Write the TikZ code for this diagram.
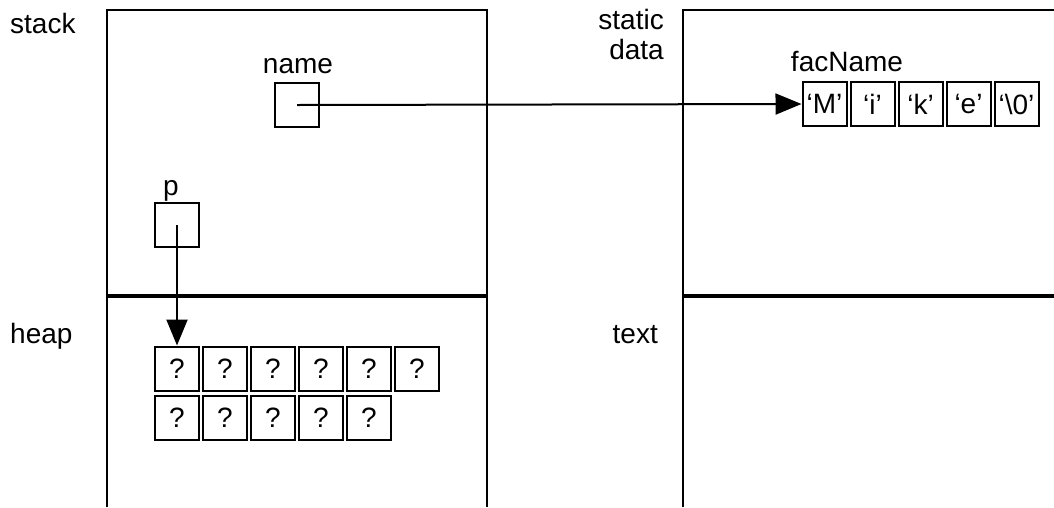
\documentclass[tikz,border=0pt]{standalone}
\usepackage{fontspec}
\setmainfont{Liberation Sans}
\usetikzlibrary{arrows.meta}
\tikzset{
  lbl/.style={inner sep=0pt, font=\fontsize{28}{30}\selectfont},
  cell/.style={draw, line width=2pt, minimum width=44pt, minimum height=44pt, inner sep=0pt, font=\fontsize{28}{30}\selectfont},
  frame/.style={line width=2pt},
  divider/.style={line width=4pt},
  ptr/.style={line width=2pt, -{Triangle[length=26pt,width=21pt]}}
}
\begin{document}
\begin{tikzpicture}[x=1pt,y=-1pt]
\useasboundingbox (0,0) rectangle (1054,507);
% frames
\draw[frame] (107,507) -- (107,10) -- (487,10) -- (487,507);
\draw[frame] (683,507) -- (683,10) -- (1054,10);
\draw[divider] (107,296) -- (487,296);
\draw[divider] (683,296) -- (1054,296);
% region labels
\node[lbl, anchor=base west] (lstack) at (10,33) {stack};
\node[lbl, anchor=base west] (lheap) at (10,343) {heap};
\node[lbl, anchor=north east, align=right] (lstatic) at (664,9) {static\\data};
\node[lbl, anchor=base east] (ltext) at (658,343) {text};
% name pointer
\node[cell] (namebox) at (297,105) {};
\node[lbl, anchor=base] (lname) at (298,73) {name};
% p pointer
\node[cell] (pbox) at (177,225) {};
\node[lbl, anchor=base] (lp) at (171,195) {p};
% facName array
\node[lbl, anchor=base] (lfac) at (847,71) {facName};
\node[cell] (f1) at (824.5,104) {‘M’};
\node[cell] (f2) at (872.5,104) {‘i’};
\node[cell] (f3) at (920.5,104) {‘k’};
\node[cell] (f4) at (968.5,104) {‘e’};
\node[cell] (f5) at (1016.5,104) {‘\textbackslash0’};
% heap cells
\foreach \i in {0,...,5} {
  \node[cell] (ha\i) at (177+48*\i,368.5) {?};
}
\foreach \i in {0,...,4} {
  \node[cell] (hb\i) at (177+48*\i,417.5) {?};
}
% pointers
\draw[ptr] (namebox.center) -- (f1.west);
\draw[ptr] (pbox.center) -- (ha0.north);
\end{tikzpicture}
\end{document}
